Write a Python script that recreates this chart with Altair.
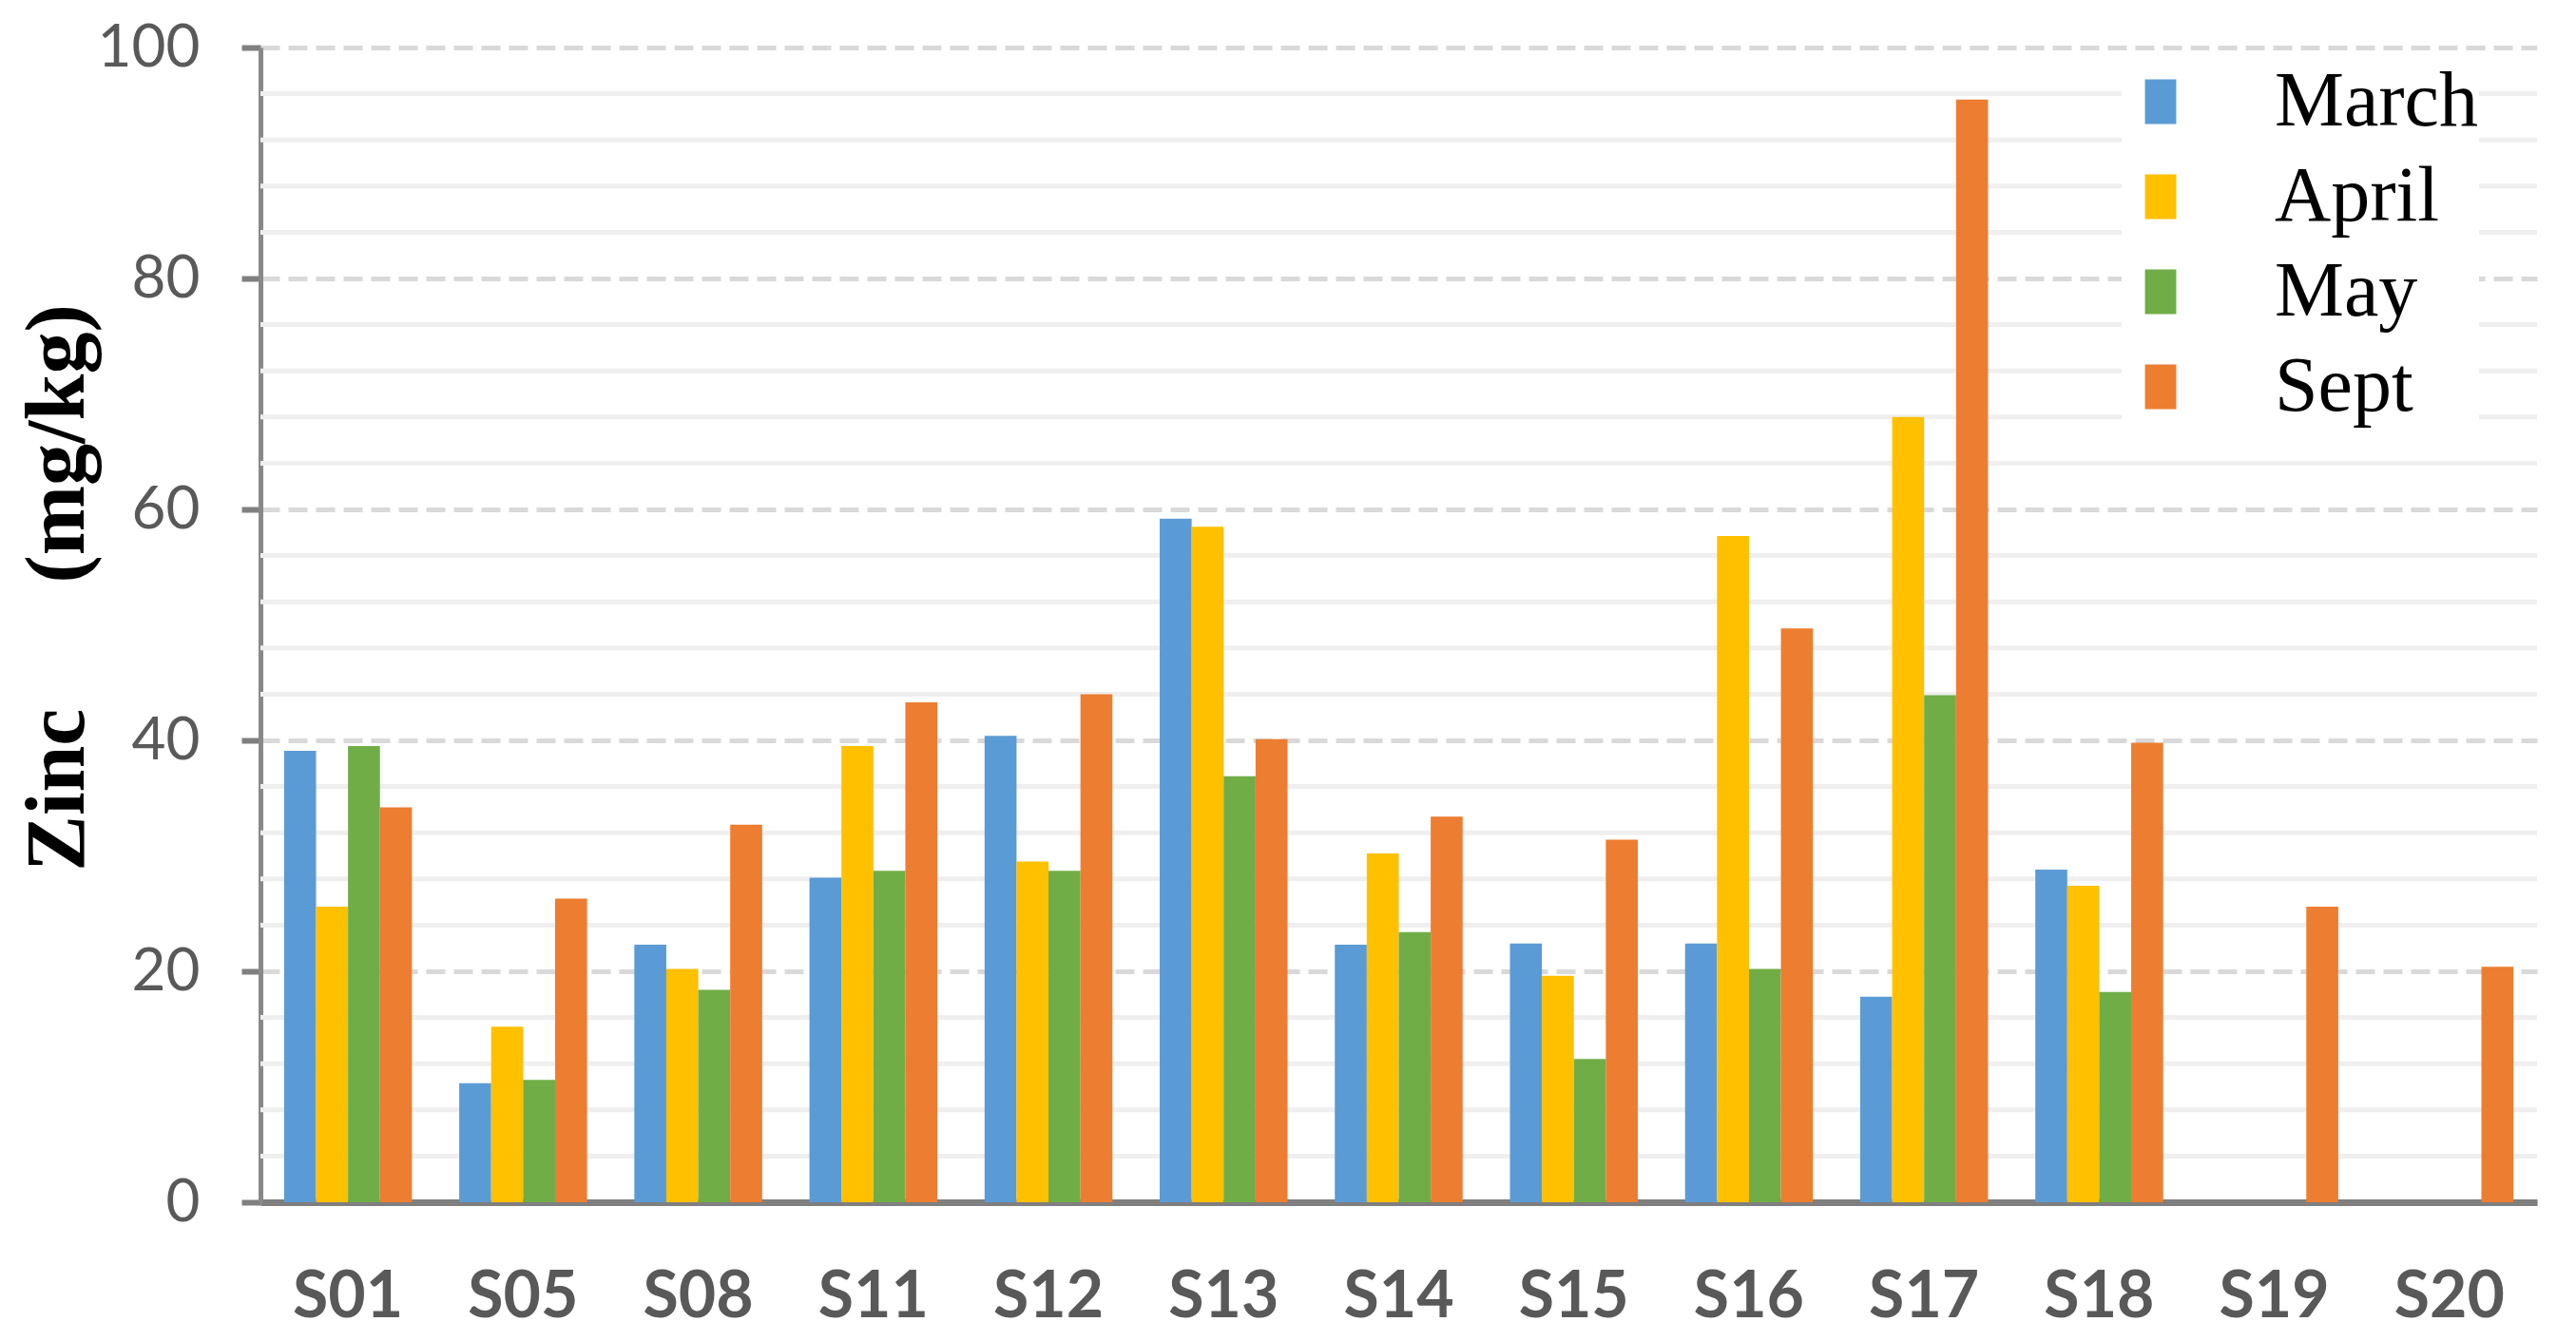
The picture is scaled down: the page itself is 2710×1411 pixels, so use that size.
import altair as alt
import pandas as pd

sites = ["S01", "S05", "S08", "S11", "S12", "S13", "S14", "S15", "S16", "S17", "S18", "S19", "S20"]
months = ["March", "April", "May", "Sept"]
march = [39.1, 10.3, 22.3, 28.1, 40.4, 59.2, 22.3, 22.4, 22.4, 17.8, 28.8, None, None]
april = [25.6, 15.2, 20.2, 39.5, 29.5, 58.5, 30.2, 19.6, 57.7, 68.0, 27.4, None, None]
may = [39.5, 10.6, 18.4, 28.7, 28.7, 36.9, 23.4, 12.4, 20.2, 43.9, 18.2, None, None]
sept = [34.2, 26.3, 32.7, 43.3, 44.0, 40.1, 33.4, 31.4, 49.7, 95.5, 39.8, 25.6, 20.4]
y_ticks = [0, 20, 40, 60, 80, 100]
y_minor = [4, 8, 12, 16, 24, 28, 32, 36, 44, 48, 52, 56, 64, 68, 72, 76, 84, 88, 92, 96]
colors = ["#5B9BD5", "#FFC000", "#70AD47", "#ED7D31"]

rows = []
for m, vals in zip(months, [march, april, may, sept]):
    for s, v in zip(sites, vals):
        if v is not None:
            rows.append({"Site": s, "Month": m, "Zinc": v})
df = pd.DataFrame(rows)
grid_df = pd.DataFrame({"Zinc": y_minor})

SANS = "Lato, Carlito, Calibri, sans-serif"
SERIF = "Liberation Serif, Times New Roman, serif"

yscale = alt.Scale(domain=[0, 100], nice=False, zero=True)
yaxis = alt.Axis(
    values=y_ticks,
    grid=True,
    gridColor="#d9d9d9",
    gridDash=[20, 9],
    gridWidth=5,
    domainColor="#888888",
    domainWidth=5,
    tickColor="#7f7f7f",
    tickSize=20,
    tickWidth=6,
    labelFont=SANS,
    labelFontSize=62,
    labelColor="#595959",
    labelPadding=44,
    title="Zinc\u00a0\u00a0\u00a0\u00a0\u00a0\u00a0(mg/kg)",
    titleFont=SERIF,
    titleFontSize=88,
    titleFontWeight="bold",
    titleColor="black",
    titleX=-213,
    titleY=568,
    titleBaseline="middle",
    titleAlign="center",
)

minor = alt.Chart(grid_df).mark_rule(color="#efefef", strokeWidth=5).encode(
    y=alt.Y("Zinc:Q", scale=yscale, axis=yaxis)
)

bars = alt.Chart(df).mark_bar().encode(
    x=alt.X(
        "Site:N",
        sort=sites,
        scale=alt.Scale(domain=sites, paddingInner=0.27, paddingOuter=0.135),
        axis=alt.Axis(
            title=None,
            labelAngle=0,
            labelFont=SANS,
            labelFontSize=68,
            labelFontWeight="bold",
            labelColor="#595959",
            labelPadding=66,
            ticks=False,
            grid=False,
            domainColor="#7f7f7f",
            domainWidth=7,
        ),
    ),
    xOffset=alt.XOffset("Month:N", scale=alt.Scale(domain=months, paddingInner=0, paddingOuter=0)),
    y=alt.Y("Zinc:Q", scale=yscale, axis=yaxis),
    color=alt.Color(
        "Month:N",
        scale=alt.Scale(domain=months, range=colors),
        legend=alt.Legend(
            title=None,
            orient="none",
            legendX=1958,
            legendY=16,
            labelFont=SERIF,
            labelFontSize=82,
            labelColor="black",
            labelLimit=800,
            labelExpr="datum.label + '\u00a0\u00a0\u00a0\u00a0\u00a0\u00a0\u00a0\u00a0\u00a0\u00a0'",
            symbolType="M-0.7,-1H0.7V1H-0.7Z",
            symbolSize=2209,
            symbolStrokeWidth=0,
            symbolOpacity=1,
            labelOffset=79,
            rowPadding=18,
            fillColor="white",
            padding=0,
        ),
    ),
)

chart = alt.layer(minor, bars).properties(
    width=2395,
    height=1215,
    padding={"left": 266, "top": 42, "right": 15, "bottom": 146},
    autosize=alt.AutoSizeParams(type="none"),
).configure_view(stroke=None)

chart.save("out.html", embed_options={"renderer": "svg", "actions": False})
